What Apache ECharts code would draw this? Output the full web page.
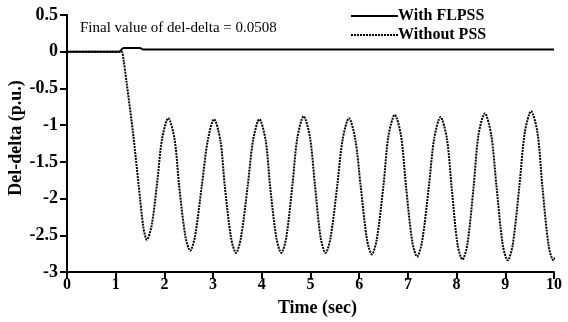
<!DOCTYPE html>
<html><head><meta charset="utf-8">
<script src="https://cdn.jsdelivr.net/npm/echarts@6/dist/echarts.min.js"></script>
<style>html,body{margin:0;padding:0;background:#fff}#c{width:568px;height:322px}</style>
</head><body><div id="c"></div>
<script>
// Time (sec) and Del-delta (p.u.)
const timeWith = [0, 1.08, 1.12, 1.16, 1.50, 1.56, 10];
const valWith  = [0, 0, 0.03, 0.05, 0.05, 0.03, 0.03];

const timeWithout = [0, 1.0, 1.12, 1.16, 1.23, 1.36, 1.47, 1.57, 1.64,
  1.74, 1.86, 1.95, 2.08, 2.21, 2.30, 2.43, 2.53, 2.63, 2.77, 2.89, 3.02,
  3.15, 3.24, 3.37, 3.47, 3.57, 3.71, 3.82, 3.95, 4.08, 4.17, 4.30, 4.40,
  4.50, 4.63, 4.73, 4.86, 4.99, 5.09, 5.21, 5.31, 5.41, 5.55, 5.66, 5.79,
  5.92, 6.03, 6.16, 6.26, 6.36, 6.50, 6.60, 6.73, 6.86, 6.96, 7.09, 7.19,
  7.29, 7.43, 7.54, 7.67, 7.80, 7.90, 8.02, 8.12, 8.22, 8.35, 8.45, 8.58,
  8.71, 8.82, 8.95, 9.05, 9.15, 9.29, 9.40, 9.53, 9.66, 9.76, 9.89, 9.99, 10.06];
const valWithout = [0, 0, 0, -0.11, -0.45, -1.13, -1.81, -2.40, -2.56,
  -2.36, -1.73, -1.195, -0.905, -1.195, -1.81, -2.51, -2.71, -2.51, -1.815, -1.21, -0.92,
  -1.21, -1.83, -2.54, -2.74, -2.54, -1.83, -1.21, -0.92, -1.21, -1.83, -2.54, -2.74,
  -2.54, -1.81, -1.17, -0.88, -1.17, -1.81, -2.54, -2.74, -2.54, -1.82, -1.195, -0.905,
  -1.195, -1.83, -2.56, -2.76, -2.56, -1.81, -1.15, -0.86, -1.15, -1.825, -2.59, -2.79,
  -2.59, -1.84, -1.18, -0.89, -1.18, -1.86, -2.63, -2.83, -2.63, -1.835, -1.13, -0.84,
  -1.13, -1.84, -2.64, -2.84, -2.64, -1.825, -1.10, -0.81, -1.10, -1.825, -2.64, -2.84, -2.75];

const xTicks = { min: 0, max: 10, interval: 1 };
const yTicks = { min: -3, max: 0.5, interval: 0.5 };
const names = ['With FLPSS', 'Without PSS'];
const annotation = 'Final value of del-delta = 0.0508';

const font = '"Liberation Serif", "Times New Roman", serif';
const zip = (a, b) => a.map((t, i) => [t, b[i]]);

const chart = echarts.init(document.getElementById('c'), null, {renderer: 'canvas'});
chart.setOption({
  animation: false,
  backgroundColor: '#fff',
  grid: { left: 67, right: 14, top: 15, bottom: 50, containLabel: false, outerBoundsMode: 'none' },
  legend: {
    orient: 'vertical', left: 350, top: 8, padding: 0, itemWidth: 47, itemHeight: 14, itemGap: 3,
    data: names,
    itemStyle: { opacity: 0 },
    textStyle: { fontFamily: font, fontWeight: 'bold', fontSize: 16, lineHeight: 16, color: '#000', padding: [0,0,0,-5] }
  },
  graphic: [{
    type: 'text', left: 80, top: 21,
    style: { text: annotation, font: '15px ' + font, fill: '#000' }
  }],
  xAxis: {
    type: 'value', min: xTicks.min, max: xTicks.max, interval: xTicks.interval,
    name: 'Time (sec)', nameLocation: 'middle', nameGap: 27, nameMoveOverlap: false,
    nameTextStyle: { fontFamily: font, fontWeight: 'bold', fontSize: 18, color: '#000', padding: [0,0,0,14] },
    axisLine: { onZero: false, lineStyle: { color: '#000', width: 2 } },
    axisTick: { inside: false, length: 7, lineStyle: { color: '#000', width: 2 } },
    axisLabel: { margin: 5, fontFamily: font, fontWeight: 'bold', fontSize: 16, color: '#000' },
    splitLine: { show: false }
  },
  yAxis: {
    type: 'value', min: yTicks.min, max: yTicks.max, interval: yTicks.interval,
    name: 'Del-delta (p.u.)', nameLocation: 'middle', nameGap: 42, nameRotate: 90, nameMoveOverlap: false,
    nameTextStyle: { fontFamily: font, fontWeight: 'bold', fontSize: 18, color: '#000', padding: [0,0,0,11] },
    axisLine: { onZero: false, lineStyle: { color: '#000', width: 2 } },
    axisTick: { inside: false, length: 7, lineStyle: { color: '#000', width: 2 } },
    axisLabel: { margin: 9, fontFamily: font, fontWeight: 'bold', fontSize: 18, color: '#000' },
    splitLine: { show: false }
  },
  series: [
    { name: names[0], type: 'line', data: zip(timeWith, valWith), showSymbol: false, symbol: 'none',
      smooth: 0.2, clip: false, lineStyle: { color: '#000', width: 2, type: 'solid' }, itemStyle: { color: '#000' }, z: 3 },
    { name: names[1], type: 'line', data: zip(timeWithout, valWithout), showSymbol: false, symbol: 'none',
      smooth: 0.3, clip: false, lineStyle: { color: '#000', width: 2, type: [2, 1] }, itemStyle: { color: '#000' }, z: 2 }
  ]
});
</script></body></html>
